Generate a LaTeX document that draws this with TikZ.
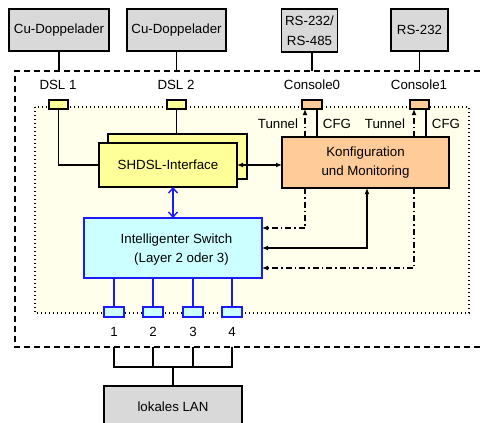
\documentclass[tikz,border=0pt]{standalone}
\usepackage{fontspec}
\setmainfont{Liberation Sans}
\usetikzlibrary{arrows.meta,calc}
\definecolor{boxgray}{HTML}{D9D9D9}
\definecolor{panelfill}{HTML}{FFFFEB}
\definecolor{shyellow}{HTML}{FFFF99}
\definecolor{cfgorange}{HTML}{FFCC99}
\definecolor{swcyan}{HTML}{CCFFFF}
\definecolor{swblue}{HTML}{1A1AFF}
\tikzset{
  blk/.style={draw=black, line width=1.4pt, inner sep=0pt, outer sep=0pt},
  ext/.style={blk, fill=boxgray, minimum height=42pt},
  portbox/.style={blk, minimum width=19pt, minimum height=9pt},
  wire/.style={line width=1.3pt},
  dashdot/.style={wire, dash pattern=on 6pt off 3pt on 1.5pt off 3pt},
  housing/.style={line width=1.4pt, dash pattern=on 6pt off 4pt},
  panel/.style={line width=1.3pt, dash pattern=on 1.3pt off 2.7pt, fill=panelfill},
  swline/.style={line width=1.4pt, draw=swblue},
}
\begin{document}
\begin{tikzpicture}[x=1pt, y=-1pt, font=\fontsize{13.3}{19.5}\selectfont,
  >={Latex[length=6pt,width=5pt]}]
\useasboundingbox (0,0) rectangle (483,423);

% housing outline and inner board
\draw[housing] (500,71) -- (15,71) -- (15,347) -- (500,347);
\draw[panel] (35,107) rectangle (469,313);
\coordinate (htop) at (15,71);
\coordinate (hbot) at (15,347);

% external connections
\node[ext, minimum width=100pt] (cuA) at (59,30) {Cu-Doppelader};
\node[ext, minimum width=99pt] (cuB) at (176.5,30) {Cu-Doppelader};
\node[ext, minimum width=56pt, minimum height=43pt, align=center] (rsA) at (309.5,30.5) {RS-232/\\RS-485};
\node[ext, minimum width=57pt] (rsB) at (419.5,30) {RS-232};

\draw[wire] (cuA.south) -- (cuA.south |- htop);
\draw[wire] (cuB.south) -- (cuB.south |- htop);
\draw[wire] ($(rsA.south)+(2.5,0)$) -- ($(rsA.south |- htop)+(2.5,0)$);
\draw[wire] (rsB.south) -- (rsB.south |- htop);

% interface labels
\node (lA) at (58,85) {DSL 1};
\node (lB) at (176,85) {DSL 2};
\node (lC) at (312,85) {Console0};
\node (lD) at (419,85) {Console1};

% interface ports
\node[portbox, fill=shyellow] (dslA) at (58.5,104.5) {};
\node[portbox, fill=shyellow] (dslB) at (176.5,104.5) {};
\node[portbox, fill=cfgorange, minimum width=20pt] (conA) at (312,104.5) {};
\node[portbox, fill=cfgorange] (conB) at (419.5,104.5) {};

% SHDSL interface (two stacked units)
\node[blk, fill=shyellow, minimum width=139pt, minimum height=45pt] (shback) at (177.5,156.5) {};
\node[blk, fill=shyellow, minimum width=138pt, minimum height=44pt] (shdsl) at (168,165) {SHDSL-Interface};

% configuration and monitoring
\node[blk, fill=cfgorange, minimum width=167pt, minimum height=51pt, align=center] (konf) at (365.5,162.5) {Konfiguration\\und Monitoring};

% switch
\node[blk, draw=swblue, fill=swcyan, minimum width=178pt, minimum height=60pt] (sw) at (173,248) {};
\node (swA) at (176.5,240) {Intelligenter Switch};
\node (swB) at (181.5,259) {(Layer 2 oder 3)};

% DSL lines
\draw[wire] (dslA.south) |- (shdsl.west);
\draw[wire] (dslB.south) -- (dslB.south |- shback.north);
\draw[wire, <->] (shdsl.east) -- (shdsl.east -| konf.west);
\draw[line width=1.4pt, draw=swblue, {Straight Barb[length=5pt,width=9pt]}-{Straight Barb[length=5pt,width=9pt]}]
  (sw.north |- shdsl.south) -- (sw.north);

% console paths: tunnel (dash-dot) and configuration (solid)
\coordinate (tA) at ($(conA.south)+(-7,0)$);
\coordinate (cA) at ($(conA.south)+(5,0)$);
\coordinate (tB) at ($(conB.south)+(-5.5,0)$);
\coordinate (cB) at ($(conB.south)+(6.5,0)$);
\coordinate (mgmt) at (367,0);

\draw[dashdot, ->] (tA |- konf.north) -- (tA);
\draw[wire] (cA |- konf.north) -- (cA);
\draw[dashdot, ->] (tB |- konf.north) -- (tB);
\draw[wire] (cB |- konf.north) -- (cB);

\node (tunA) at (278,124) {Tunnel};
\node (cfgA) at (337,124) {CFG};
\node (tunB) at (385,124) {Tunnel};
\node (cfgB) at (446,124) {CFG};

% paths from configuration into the switch
\draw[dashdot, ->] (tA |- konf.south) |- ($(sw.east)+(0,-20)$);
\draw[wire, <->] (mgmt |- konf.south) |- (sw.east);
\draw[dashdot, ->] (tB |- konf.south) |- ($(sw.east)+(0,20)$);

% switch ports
\foreach \i/\x in {1/114,2/153,3/193,4/232}{
  \draw[swline] (\x,278) -- (\x,307);
  \node[blk, draw=swblue, fill=swcyan, minimum width=20pt, minimum height=10pt] (p\i) at (\x,312) {};
  \node (n\i) at (\x,332) {\i};
}

% LAN bus
\node[ext, minimum width=138pt] (lan) at (173,407) {lokales LAN};
\coordinate (bus) at (173,367);
\draw[wire] (n1 |- hbot) -- (n1 |- bus) -- (n4 |- bus) -- (n4 |- hbot);
\draw[wire] (n2 |- hbot) -- (n2 |- bus);
\draw[wire] (n3 |- hbot) -- (n3 |- bus);
\draw[wire] (bus) -- (lan.north);
\end{tikzpicture}
\end{document}
